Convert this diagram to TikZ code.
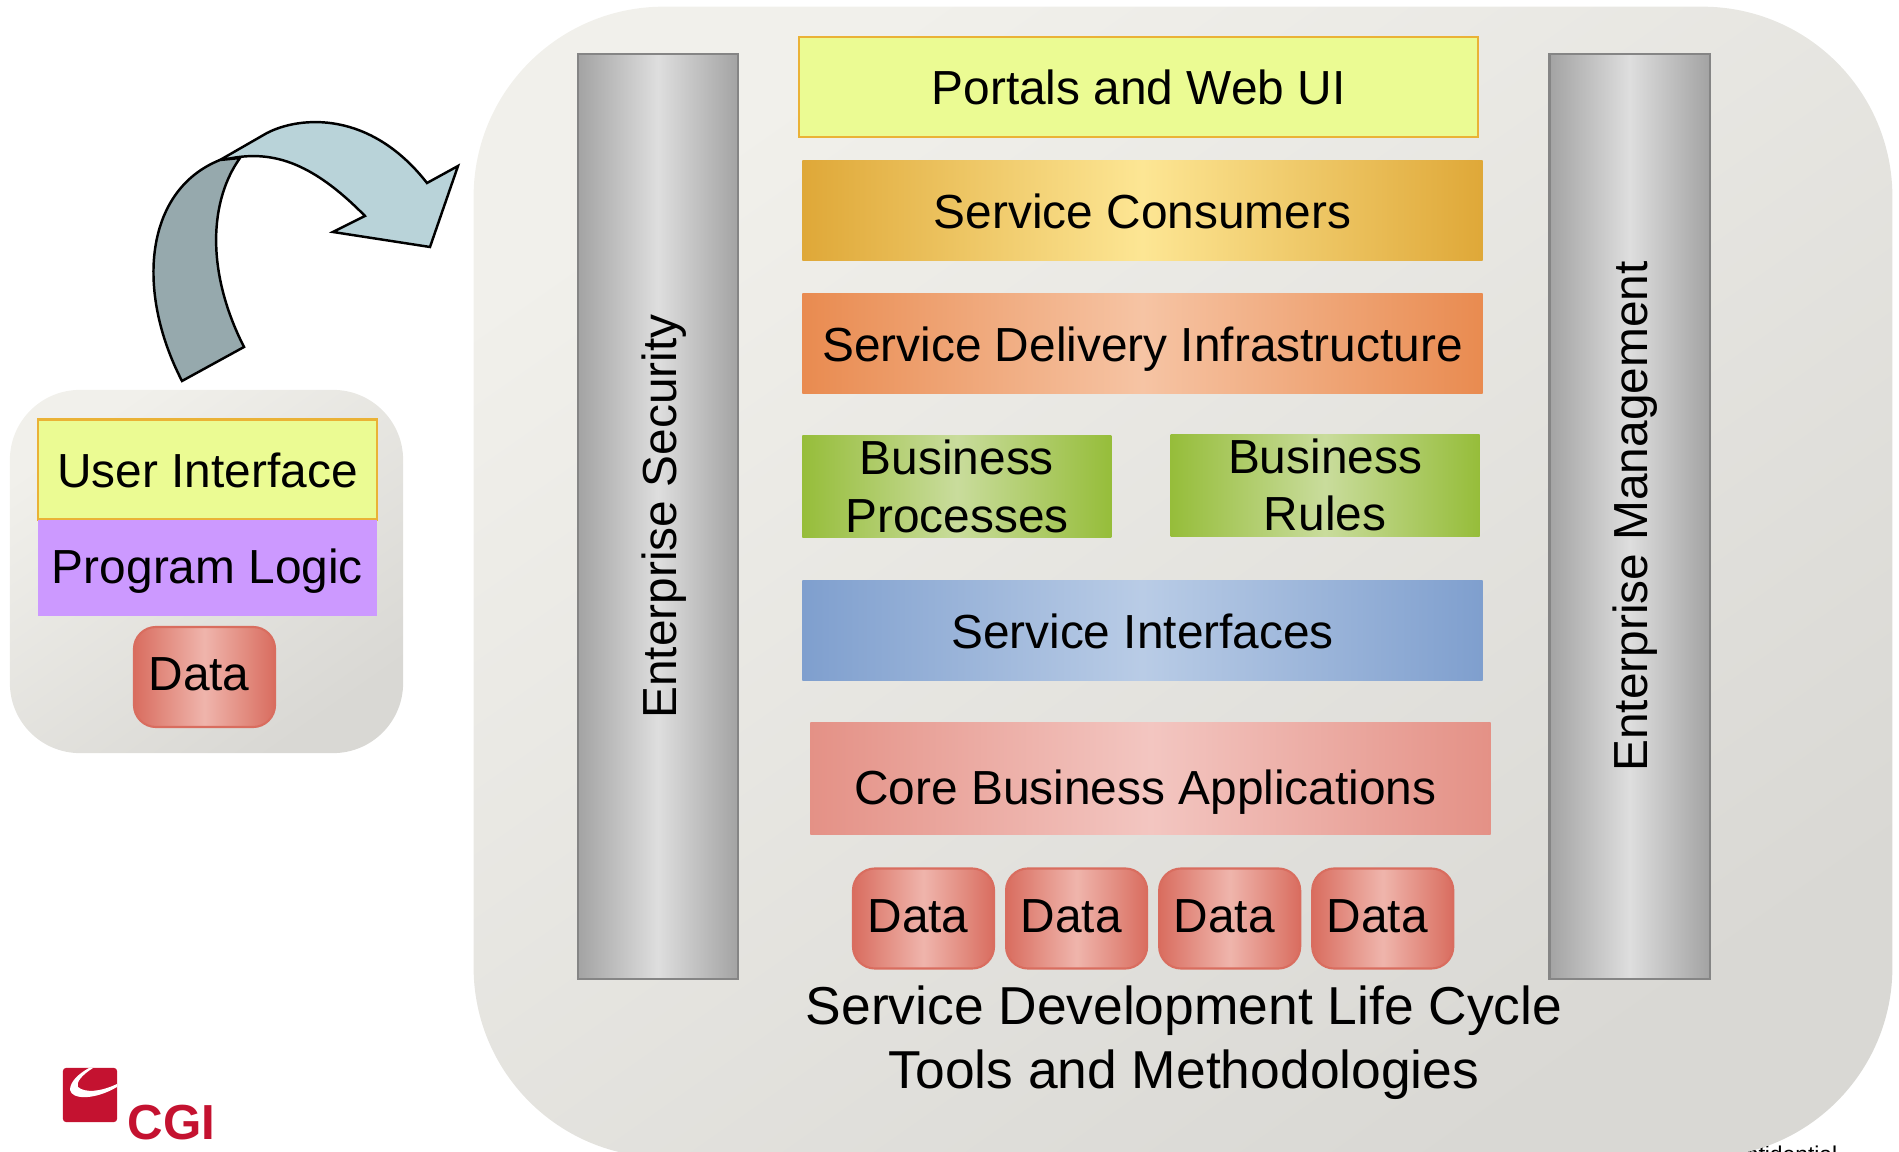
\documentclass[tikz,border=0pt]{standalone}
\usepackage{fontspec}
\usepackage{graphicx}
\setmainfont{Liberation Sans}
\usetikzlibrary{positioning}

\definecolor{panelA}{HTML}{F1F0EB}
\definecolor{panelB}{HTML}{D9D8D4}
\definecolor{barEdge}{HTML}{A3A3A3}
\definecolor{barMid}{HTML}{DEDEDE}
\definecolor{barLine}{HTML}{858585}
\definecolor{cgiRed}{HTML}{C41230}
\definecolor{uiFill}{HTML}{EBFB93}
\definecolor{uiLine}{HTML}{EAB236}
\definecolor{logicFill}{HTML}{CC99FF}
\definecolor{consEdge}{HTML}{DFA838}
\definecolor{consMid}{HTML}{FDE694}
\definecolor{delivEdge}{HTML}{E98B50}
\definecolor{delivMid}{HTML}{F6C4A4}
\definecolor{busEdge}{HTML}{96BD3A}
\definecolor{busMid}{HTML}{C9DC9C}
\definecolor{ifEdge}{HTML}{7F9FCE}
\definecolor{ifMid}{HTML}{B9CCE6}
\definecolor{coreEdge}{HTML}{E49186}
\definecolor{coreMid}{HTML}{F3C6C1}
\definecolor{dataEdge}{HTML}{D96D5F}
\definecolor{dataMid}{HTML}{EFB5AC}
\definecolor{arrowLight}{HTML}{B9D3D9}
\definecolor{arrowDark}{HTML}{96A9AD}

\begin{document}
\begin{tikzpicture}[
    x=0.01cm, y=-0.01cm,
    panel/.style={rectangle, rounded corners=1.9cm, draw=none, shading=axis, top color=panelA, bottom color=panelB, shading angle=35},
    layerbase/.style={rectangle, outer sep=0pt, minimum width=6.8cm, minimum height=1cm, text=black, font=\fontsize{13.6}{16.3}\selectfont},
    layer/.style={layerbase, text height=10.2pt, text depth=0pt},
    bar/.style={rectangle, outer sep=0pt, minimum width=1.6cm, minimum height=9.25cm, draw=barLine, line width=0.6pt, left color=barEdge, right color=barEdge, middle color=barMid, font=\fontsize{13.6}{16}\selectfont},
    ui/.style={layer, fill=uiFill, draw=uiLine, line width=0.6pt},
    consumers/.style={layer, left color=consEdge, right color=consEdge, middle color=consMid},
    delivery/.style={layer, left color=delivEdge, right color=delivEdge, middle color=delivMid},
    business/.style={layerbase, align=center, inner sep=0pt, minimum width=3.09cm, minimum height=1.02cm, left color=busEdge, right color=busEdge, middle color=busMid},
    interfaces/.style={layer, left color=ifEdge, right color=ifEdge, middle color=ifMid},
    core/.style={layer, text height=14.6pt, minimum height=1.12cm, left color=coreEdge, right color=coreEdge, middle color=coreMid},
    datastore/.style={layer, text height=7.8pt, minimum width=1.41cm, rounded corners=0.22cm, left color=dataEdge, right color=dataEdge, middle color=dataMid, draw=dataEdge, line width=0.6pt}
    ]
    \useasboundingbox (0,0) rectangle (1899,1152);
    \clip (0,0) rectangle (1899,1152);

    % texte coupe sous le panneau
    \node (conf) [anchor=base east, inner sep=0pt, font=\fontsize{6.5}{8}\selectfont] at (1838,1162) {Confidential};

    % panneau de droite
    \node (bigpanel) [panel, minimum width=14.18cm, minimum height=11.5cm] at (1183,582) {};

    % panneau de gauche
    \node (smallpanel) [panel, rounded corners=0.7cm, minimum width=3.93cm, minimum height=3.63cm] at (206.5,571.5) {};
    \node (userif) [ui, minimum width=3.38cm, minimum height=1cm] at (207.5,469.5) {User Interface};
    \node (logic) [layer, text height=10pt, text depth=0.9pt, minimum width=3.39cm, minimum height=0.96cm, fill=logicFill, below=0cm of userif] {Program Logic};
    \node (data) [datastore] at (204.5,677) {Data\kern0.11cm};

    % colonnes
    \node (security) [bar] at (658,516.5) {\kern0.12cm\rotatebox{90}{Enterprise Security}};
    \node (management) [bar] at (1629.5,516.5) {\kern0.12cm\rotatebox{90}{Enterprise Management}};

    % couches du milieu
    \node (portals) [ui, minimum width=6.78cm] at (1138.5,87) {Portals and Web UI};
    \node (consumer) [consumers, below=0.23cm of portals, xshift=0.04cm] {Service Consumers};
    \node (deliver) [delivery, below=0.33cm of consumer] {Service Delivery Infrastructure};
    \node (process) [business, below=0.42cm of deliver.south west, anchor=north west] {Business\\\smash{Processes}};
    \node (rules) [business, anchor=north west, xshift=3.68cm, yshift=0.01cm] at (process.north west) {Business\\Rules};
    \node (interface) [interfaces, below=0.42cm of deliver, yshift=-1.45cm] {Service Interfaces};
    \node (coreapp) [core, below=0.42cm of interface, xshift=0.08cm] {Core Business Applications\kern0.1cm};

    % les donnees
    \node (dataA) [datastore] at (923.5,918.5) {Data\kern0.11cm};
    \node (dataB) [datastore, right=0.12cm of dataA] {Data\kern0.11cm};
    \node (dataC) [datastore, right=0.12cm of dataB] {Data\kern0.11cm};
    \node (dataD) [datastore, right=0.12cm of dataC] {Data\kern0.11cm};

    \node (lifecycle) [align=center, font=\fontsize{15.18}{18.1}\selectfont] at (1184,1043) {Service Development Life Cycle\\Tools and Methodologies};

    % fleche courbe
    \draw [line width=0.7pt, fill=arrowLight] (220,160) -- (267,133) .. controls (300,116) and (370,110) .. (427,183) -- (458,166) -- (430,247) -- (333,232) -- (365,216) .. controls (310,160) and (270,150) .. (227,159) -- cycle;
    \draw [line width=0.7pt, fill=arrowDark] (182,381) .. controls (135,290) and (145,190) .. (220,160) -- (240,158) .. controls (210,200) and (205,270) .. (244,347) -- cycle;

    % logo
    \node (logosq) [rectangle, rounded corners=0.03cm, fill=cgiRed, minimum width=0.54cm, minimum height=0.54cm] at (90,1095) {};
    \fill [white] (89,1068) .. controls (78,1074) and (70,1082) .. (70,1090) .. controls (72,1100) and (95,1100) .. (117,1087) -- (117,1084) .. controls (100,1092) and (85,1093) .. (78,1087) .. controls (76,1082) and (82,1075) .. (93,1068) -- cycle;
    \node (cgi) [anchor=base west, text=cgiRed, inner sep=0pt, font=\fontsize{14}{16}\bfseries\selectfont] at (127,1139) {CGI};
\end{tikzpicture}
\end{document}
